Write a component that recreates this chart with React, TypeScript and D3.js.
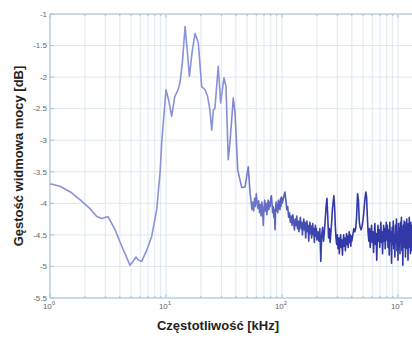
import * as d3 from "d3";

// smooth low-frequency part + resonance peaks (kHz, dB)
const lowFreq = [
  1, 1.22, 1.5, 1.81, 2.2, 2.53, 2.8, 3.16, 3.6, 4.2, 4.89, 5.2, 5.51, 5.8,
  6.17, 6.8, 7.53, 8.32, 8.9, 9.18, 10.0, 10.5, 11.2, 11.9, 12.7, 13.2, 13.9,
  14.6, 15.2, 15.9, 16.8, 17.8, 19.0, 20.3, 21.7, 22.8, 23.9, 24.8, 25.6,
  26.4, 28.2, 29.6, 31.6, 32.9, 34.4, 35.6, 38.0, 39.4, 41.5, 45.0, 48.0,
  51.2, 53.0,
];
const lowDb = [
  -3.69, -3.73, -3.82, -3.94, -4.08, -4.21, -4.24, -4.21, -4.4, -4.7, -4.98,
  -4.92, -4.85, -4.9, -4.92, -4.75, -4.52, -4.1, -3.5, -3.04, -2.2, -2.35,
  -2.62, -2.31, -2.2, -2.09, -1.73, -1.2, -1.55, -1.99, -1.6, -1.31, -1.46,
  -2.15, -2.2, -2.3, -2.52, -2.84, -2.52, -2.5, -1.83, -2.41, -2.01, -2.15,
  -3.31, -3.04, -2.33, -2.57, -3.47, -3.75, -3.74, -3.42, -3.83,
];

// noisy high-frequency part (kHz, dB)
const highFreq = [
  54, 55, 56, 57, 58, 59, 60, 61, 62, 63, 64, 65, 66, 67, 68, 69, 70, 71, 72,
  73, 74, 75, 76, 77, 78, 79, 80, 81, 82, 83, 84, 85, 86, 87, 88, 89, 90, 91,
  92, 93, 94, 95, 96, 97, 98, 99, 100,
  102, 104, 106, 108, 110, 112, 114, 116, 118, 120, 122, 124, 126, 128, 130,
  132, 134, 136, 138, 140, 142, 144, 146, 148, 150, 152, 154, 156, 158, 160,
  162, 164, 166, 168, 170, 172, 174, 176, 178, 180, 182, 184, 186, 188, 190,
  192, 194, 196, 198, 200,
  204, 208, 212, 216, 220, 224, 228, 232, 236, 240, 244, 248, 252, 256, 260,
  264, 268, 272, 276, 280, 284, 288, 292, 296, 300, 304, 308, 312, 316, 320,
  324, 328, 332, 336, 340, 344, 348, 352, 356, 360, 364, 368, 372, 376, 380,
  384, 388, 392, 396, 400,
  408, 416, 424, 432, 440, 448, 456, 464, 472, 480, 488, 496, 504, 512, 520,
  528, 536, 544, 552, 560, 568, 576, 584, 592, 600, 608, 616, 624, 632, 640,
  648, 656, 664, 672, 680, 688, 696, 704, 712, 720, 728, 736, 744, 752, 760,
  768, 776, 784, 792, 800,
  810, 820, 830, 840, 850, 860, 870, 880, 890, 900, 910, 920, 930, 940, 950,
  960, 970, 980, 990, 1000, 1010, 1020, 1030, 1040, 1050, 1060, 1070, 1080,
  1090, 1100, 1110, 1120, 1130, 1140, 1150, 1160, 1170, 1180, 1190, 1200,
  1210, 1220, 1230, 1240, 1250, 1260, 1270, 1280, 1290, 1300, 1310, 1320,
  1330,
];
const highDb = [
  -3.95, -4.1, -3.98, -4.12, -3.92, -4.05, -3.85, -3.98, -4.08, -3.96, -4.15,
  -4.02, -4.2, -3.98, -4.1, -4.35, -4.05, -3.95, -4.12, -4.0, -4.18, -4.05,
  -3.95, -4.1, -3.98, -4.05, -3.92, -3.88, -4.0, -4.15, -4.05, -4.22, -4.1,
  -4.42, -4.08, -3.98, -4.12, -4.02, -4.15, -3.95, -4.08, -3.98, -4.1, -3.92,
  -4.05, -3.9, -4.0,
  -3.95, -3.88, -3.82, -3.95, -4.1, -4.05, -4.22, -4.15, -4.3, -4.2, -4.35,
  -4.18, -4.3, -4.42, -4.25, -4.35, -4.2, -4.4, -4.28, -4.45, -4.32, -4.22,
  -4.4, -4.3, -4.5, -4.35, -4.25, -4.42, -4.3, -4.55, -4.38, -4.28, -4.45,
  -4.35, -4.6, -4.4, -4.3, -4.48, -4.36, -4.55, -4.42, -4.32, -4.5, -4.4,
  -4.62, -4.45, -4.35, -4.52, -4.4, -4.58,
  -4.45, -4.6, -4.4, -4.92, -4.5, -4.38, -4.6, -4.45, -4.25, -4.05, -3.92,
  -4.2, -4.55, -4.4, -4.62, -4.45, -4.3, -4.1, -3.98, -3.88, -4.05, -4.35,
  -4.55, -4.65, -4.5, -4.72, -4.55, -4.8, -4.6, -4.5, -4.7, -4.58, -4.82,
  -4.62, -4.5, -4.68, -4.55, -4.75, -4.6, -4.48, -4.65, -4.52, -4.7, -4.55,
  -4.45, -4.62, -4.5, -4.68, -4.52, -4.6,
  -4.5, -4.4, -4.45, -4.4, -4.2, -3.85, -3.95, -4.3, -4.38, -4.42, -4.38,
  -4.3, -4.2, -4.05, -3.92, -3.82, -3.9, -4.2, -4.45, -4.6, -4.4, -4.7, -4.5,
  -4.35, -4.62, -4.45, -4.78, -4.5, -4.32, -4.65, -4.48, -4.9, -4.55, -4.35,
  -4.6, -4.42, -4.7, -4.5, -4.3, -4.62, -4.45, -4.8, -4.52, -4.35, -4.6, -4.4,
  -4.72, -4.48, -4.3, -4.58,
  -4.35, -4.7, -4.42, -4.82, -4.3, -4.6, -4.45, -4.95, -4.38, -4.65, -4.28,
  -4.72, -4.5, -4.85, -4.35, -4.62, -4.25, -4.75, -4.45, -4.9, -4.32, -4.68,
  -4.4, -4.8, -4.3, -4.6, -4.22, -4.75, -4.42, -4.98, -4.35, -4.65, -4.28,
  -4.7, -4.4, -4.85, -4.3, -4.62, -4.25, -4.72, -4.45, -4.9, -4.32, -4.6,
  -4.22, -4.7, -4.4, -4.8, -4.3, -4.65, -4.35, -4.75, -4.45,
];

const yTicks = [-1, -1.5, -2, -2.5, -3, -3.5, -4, -4.5, -5, -5.5];
const yTickLabels = ["-1", "-1.5", "-2", "-2.5", "-3", "-3.5", "-4", "-4.5", "-5", "-5.5"];
const xMajor = [1, 10, 100, 1000];
const xExponents = ["0", "1", "2", "3"];
const xMinor = [
  2, 3, 4, 5, 6, 7, 8, 9, 20, 30, 40, 50, 60, 70, 80, 90, 200, 300, 400, 500,
  600, 700, 800, 900,
];

export default function App() {
  const width = 412;
  const height = 339;
  const margin = { top: 14, right: 0, bottom: 41, left: 50 };
  const plotBottom = height - margin.bottom;

  const x = d3.scaleLog().domain([1, 1000]).range([margin.left, 398]);
  const y = d3.scaleLinear().domain([-5.5, -1]).range([plotBottom, margin.top]);

  const points: [number, number][] = [
    ...lowFreq.map((f, i) => [f, lowDb[i]] as [number, number]),
    ...highFreq.map((f, i) => [f, highDb[i]] as [number, number]),
  ];
  const line = d3
    .line<[number, number]>()
    .x((d) => x(d[0]))
    .y((d) => y(d[1]));

  const gridColor = "#dde7f0";
  const axisColor = "#a6c3d8";
  const font = "'Liberation Sans', Arial, sans-serif";

  return (
    <svg
      width={width}
      height={height}
      style={{ position: "absolute", left: 0, top: 0, background: "#fff" }}
    >
      <defs>
        <clipPath id="plot">
          <rect x={margin.left} y={margin.top} width={width - margin.left} height={plotBottom - margin.top} />
        </clipPath>
        <linearGradient id="lineGrad" gradientUnits="userSpaceOnUse" x1={x(30)} x2={x(250)} y1={0} y2={0}>
          <stop offset="0" stopColor="#8893d8" />
          <stop offset="1" stopColor="#3239a6" />
        </linearGradient>
      </defs>

      {/* grid */}
      {[...xMinor, ...xMajor].map((v) => (
        <line key={`gx${v}`} x1={x(v)} x2={x(v)} y1={margin.top} y2={plotBottom} stroke={gridColor} strokeWidth={1} />
      ))}
      {yTicks.map((v) => (
        <line key={`gy${v}`} x1={margin.left} x2={width} y1={y(v)} y2={y(v)} stroke={gridColor} strokeWidth={1} />
      ))}

      {/* data */}
      <g clipPath="url(#plot)">
        <path d={line(points) ?? ""} fill="none" stroke="url(#lineGrad)" strokeWidth={1.6} strokeLinejoin="round" />
      </g>

      {/* axes frame */}
      <line x1={margin.left} x2={width} y1={margin.top} y2={margin.top} stroke={axisColor} />
      <line x1={margin.left} x2={width} y1={plotBottom} y2={plotBottom} stroke={axisColor} />
      <line x1={margin.left} x2={margin.left} y1={margin.top} y2={plotBottom} stroke={axisColor} />
      {yTicks.map((v) => (
        <line key={`ty${v}`} x1={margin.left} x2={margin.left + 4} y1={y(v)} y2={y(v)} stroke={axisColor} />
      ))}
      {[...xMinor, ...xMajor].map((v) => (
        <g key={`tx${v}`}>
          <line x1={x(v)} x2={x(v)} y1={plotBottom} y2={plotBottom - (xMajor.includes(v) ? 4 : 2)} stroke={axisColor} />
          <line x1={x(v)} x2={x(v)} y1={margin.top} y2={margin.top + (xMajor.includes(v) ? 4 : 2)} stroke={axisColor} />
        </g>
      ))}

      {/* tick labels */}
      {yTicks.map((v, i) => (
        <text key={`ly${v}`} x={margin.left - 3} y={y(v)} dy="0.35em" textAnchor="end" fontSize={8} fill="#666" fontFamily={font}>
          {yTickLabels[i]}
        </text>
      ))}
      {xMajor.map((v, i) => (
        <text key={`lx${v}`} x={x(v) - 1} y={plotBottom + 11} textAnchor="middle" fontSize={8} fill="#666" fontFamily={font}>
          10
          <tspan dy={-4} fontSize={6}>
            {xExponents[i]}
          </tspan>
        </text>
      ))}

      {/* axis titles */}
      <text x={218} y={330} textAnchor="middle" fontSize={13} fontWeight="bold" fill="#222" fontFamily={font}>
        Częstotliwość [kHz]
      </text>
      <text
        transform={`translate(23, ${(margin.top + plotBottom) / 2}) rotate(-90)`}
        textAnchor="middle"
        fontSize={13}
        fontWeight="bold"
        fill="#222"
        fontFamily={font}
      >
        Gęstość widmowa mocy [dB]
      </text>
    </svg>
  );
}
